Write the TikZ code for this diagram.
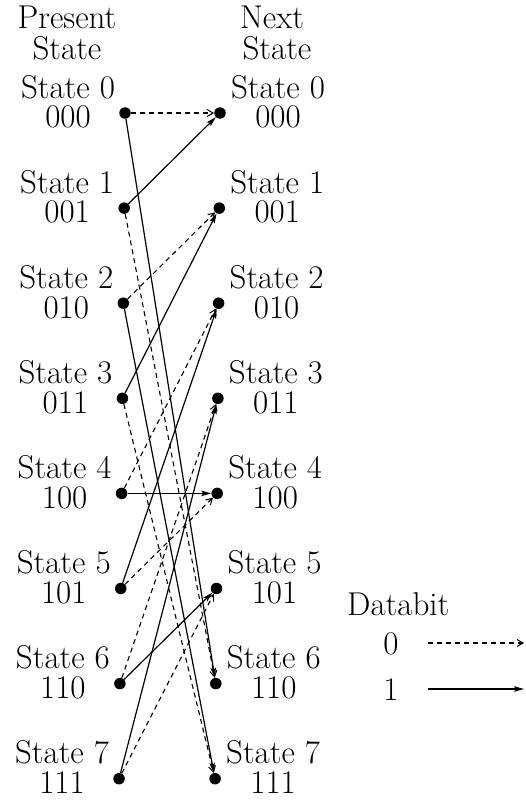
\documentclass[tikz,border=0pt]{standalone}
\usetikzlibrary{arrows.meta}
\newcommand{\twolines}[3]{\begin{tabular}[t]{@{}c@{}}#1\rule[-#3]{0pt}{0pt}\\#2\end{tabular}}
\begin{document}
\begin{tikzpicture}[x=1pt,y=-1pt,
  dot/.style={circle,fill=black,inner sep=0pt,minimum size=11.5pt},
  txt/.style={inner sep=0pt,font=\fontsize{33}{0}\selectfont},
  zero/.style={line width=1.1pt,dash pattern=on 5pt off 4pt,-{Straight Barb[length=6pt,width=7pt,line width=1pt]}},
  one/.style={line width=1.2pt,-{Stealth[length=10pt,width=5.5pt,inset=2pt]}}]
\useasboundingbox (0,0) rectangle (525,803);
% headers
\node[txt,anchor=base] (hp) at (67,28) {\twolines{Present}{State\hspace{8pt}}{8pt}};
\node[txt,anchor=base] (hn) at (277,28) {\twolines{Next\hspace{10pt}}{State}{8pt}};
% states
\foreach \i/\b in {0/000,1/001,2/010,3/011,4/100,5/101,6/110,7/111}{
  \pgfmathsetmacro{\yy}{113+95.1*\i}
  \pgfmathsetmacro{\xl}{125-0.85*\i}
  \pgfmathsetmacro{\xr}{220-0.7*\i}
  \node[dot] (L\i) at (\xl,\yy) {};
  \node[dot] (R\i) at (\xr,\yy) {};
  \node[txt,anchor=base] (LS\i) at (\xl-57,\yy-15) {\twolines{State \i}{\b\hspace{11pt}}{8pt}};
  \node[txt,anchor=base] (RS\i) at (\xr+58,\yy-15) {\twolines{State \i}{\b\hspace{16pt}}{8pt}};
}
% databit 0 transitions
\draw[zero] (L0) -- (R0);
\draw[zero] (L1) -- (R6);
\draw[zero] (L2) -- (R1);
\draw[zero] (L3) -- (R7);
\draw[zero] (L4) -- (R2);
\draw[zero] (L5) -- (R4);
\draw[zero] (L6) -- (R3);
\draw[zero] (L7) -- (R5);
% databit 1 transitions
\draw[one] (L0) -- (R6);
\draw[one] (L1) -- (R0);
\draw[one] (L2) -- (R7);
\draw[one] (L3) -- (R1);
\draw[one] (L4) -- (R4);
\draw[one] (L5) -- (R2);
\draw[one] (L6) -- (R5);
\draw[one] (L7) -- (R3);
% legend
\node[txt,anchor=base west] (db) at (347,615) {Databit};
\node[txt,anchor=base] (d0) at (391,654) {0};
\node[txt,anchor=base] (d1) at (391,700) {1};
\coordinate (a0s) at (428,643);
\coordinate (a0e) at (524,643);
\coordinate (a1s) at (428,689);
\coordinate (a1e) at (524,689);
\draw[zero] (a0s) -- (a0e);
\draw[one] (a1s) -- (a1e);
\end{tikzpicture}
\end{document}
